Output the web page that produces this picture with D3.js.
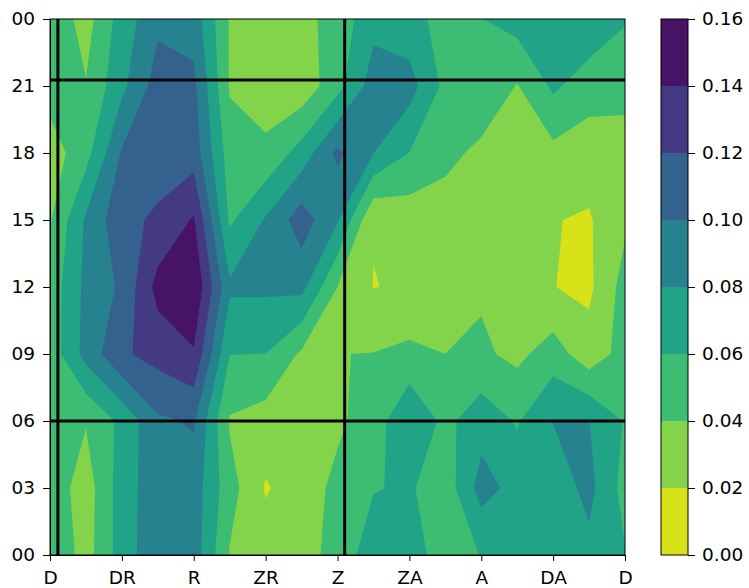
<!DOCTYPE html>
<html>
<head>
<meta charset="utf-8">
<script src="https://cdn.jsdelivr.net/npm/d3@7"></script>
<style>
    html, body { margin: 0; padding: 0; background: #fff; }
    svg { display: block; }
    text { font-family: "DejaVu Sans", sans-serif; }
</style>
</head>
<body>
<script>
const xTickLabels = ["D", "DR", "R", "ZR", "Z", "ZA", "A", "DA", "D"];
const yTickLabels = ["00", "03", "06", "09", "12", "15", "18", "21", "00"];
const levels = [0, 0.02, 0.04, 0.06, 0.08, 0.10, 0.12, 0.14, 0.16];
const bandColors = ["#d8e219", "#84d44b", "#3dbc74", "#20a386", "#26828e", "#34618d", "#443983", "#471365"];

// rows go bottom to top (every 3 hours), 17 columns (half a tick apart)
const row00 = [.059, .0316, .0695, .0947, .0914, .0386, .03, .03, .049, .0699, .067, .0526, .0605, .066, .07, .0745, .0613];
const row03 = [.0525, .03, .07, .0925, .0906, .048, .0182, .03, .045, .059, .0623, .0486, .088, .0728, .068, .086, .0525];
const row06 = [.061, .0412, .065, .0968, .102, .038, .031, .03, .0365, .0493, .0788, .0546, .072, .058, .0805, .0802, .0585];
const row09 = [.048, .087, .117, .127, .138, .0603, .0598, .0368, .0397, .0405, .0447, .04, .0433, .0352, .0496, .028, .048];
const row12 = [.048, .085, .1035, .147, .158, .0835, .0835, .0859, .04, .0195, .0225, .027, .0375, .03, .0204, .016, .048];
const row15 = [.0383, .083, .114, .1235, .142, .0568, .082, .1105, .082, .021, .0283, .029, .029, .028, .0207, .0181, .0366];
const row18 = [.03, .0526, .102, .11, .111, .05, .0443, .0682, .1045, .0802, .0597, .046, .035, .032, .0345, .029, .03];
const row21 = [.0486, .0411, .075, .1095, .105, .038, .03, .027, .053, .09, .0885, .0546, .056, .039, .0635, .0495, .0476];
const row24 = [.055, .032, .069, .0954, .0915, .0385, .032, .0338, .0478, .0737, .0666, .0533, .0595, .0683, .07, .075, .0615];
const rows = [row00, row03, row06, row09, row12, row15, row18, row21, row24];

// black marker lines, x in tick units and y in hours
const markerX = [0.11, 4.1];
const markerY = [6, 21.27];

const width = 749;
const height = 588;
const margin = { top: 19, left: 50, right: 625, bottom: 555 };
const bar = { left: 661, right: 688 };

const xScale = d3.scaleLinear().domain([0, 8]).range([margin.left, margin.right]);
const yScale = d3.scaleLinear().domain([0, 24]).range([margin.bottom, margin.top]);
const barScale = d3.scaleLinear().domain([0, 0.16]).range([margin.bottom, margin.top]);

const svg = d3.select("body")
    .append("svg")
    .attr("width", width)
    .attr("height", height);

svg.append("clipPath")
    .attr("id", "plot-clip")
    .append("rect")
    .attr("x", margin.left)
    .attr("y", margin.top)
    .attr("width", margin.right - margin.left)
    .attr("height", margin.bottom - margin.top);

// d3 puts grid value i at coordinate i + 0.5
const gridPath = d3.geoPath(d3.geoTransform({
    point(x, y) {
        this.stream.point(xScale((x - 0.5) * 0.5), yScale((y - 0.5) * 3));
    }
}));

const contours = d3.contours()
    .size([rows[0].length, rows.length])
    .thresholds(levels.slice(0, -1))(rows.flat());

svg.append("g")
    .attr("clip-path", "url(#plot-clip)")
    .selectAll("path")
    .data(contours)
    .join("path")
    .attr("d", gridPath)
    .attr("fill", (d, i) => bandColors[i]);

const markers = svg.append("g").attr("stroke", "#000").attr("stroke-width", 3);
markerX.forEach(v => {
    markers.append("line")
        .attr("x1", xScale(v)).attr("x2", xScale(v))
        .attr("y1", margin.top).attr("y2", margin.bottom);
});
markerY.forEach(v => {
    markers.append("line")
        .attr("x1", margin.left).attr("x2", margin.right)
        .attr("y1", yScale(v)).attr("y2", yScale(v));
});

const styleAxis = g => {
    g.selectAll("text").attr("font-size", 18.5).attr("fill", "#000");
    g.selectAll("line, path").attr("stroke", "#000");
};

const xAxis = d3.axisBottom(xScale)
    .tickValues(d3.range(xTickLabels.length))
    .tickFormat(i => xTickLabels[i])
    .tickSize(6)
    .tickPadding(10);
const yAxis = d3.axisLeft(yScale)
    .tickValues(d3.range(yTickLabels.length).map(i => i * 3))
    .tickFormat(h => yTickLabels[h / 3])
    .tickSize(7)
    .tickPadding(8);

svg.append("g").attr("transform", `translate(0, ${margin.bottom})`).call(xAxis).call(styleAxis);
svg.append("g").attr("transform", `translate(${margin.left}, 0)`).call(yAxis).call(styleAxis);

// top and right spines
svg.append("rect")
    .attr("x", margin.left)
    .attr("y", margin.top)
    .attr("width", margin.right - margin.left)
    .attr("height", margin.bottom - margin.top)
    .attr("fill", "none")
    .attr("stroke", "#000");

// colorbar
svg.append("g")
    .selectAll("rect")
    .data(bandColors)
    .join("rect")
    .attr("x", bar.left)
    .attr("width", bar.right - bar.left)
    .attr("y", (d, i) => barScale(levels[i + 1]))
    .attr("height", (d, i) => barScale(levels[i]) - barScale(levels[i + 1]))
    .attr("fill", d => d);

svg.append("rect")
    .attr("x", bar.left)
    .attr("y", margin.top)
    .attr("width", bar.right - bar.left)
    .attr("height", margin.bottom - margin.top)
    .attr("fill", "none")
    .attr("stroke", "#000");

const barAxis = d3.axisRight(barScale)
    .tickValues(levels)
    .tickFormat(d3.format(".2f"))
    .tickSize(7)
    .tickPadding(7);

svg.append("g")
    .attr("transform", `translate(${bar.right}, 0)`)
    .call(barAxis)
    .call(styleAxis)
    .call(g => g.select(".domain").remove());
</script>
</body>
</html>
